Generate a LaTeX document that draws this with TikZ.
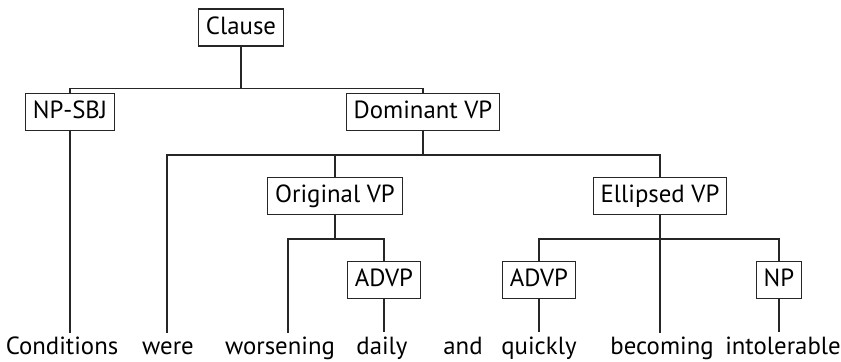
\documentclass[tikz,border=0pt]{standalone}
\usepackage{fontspec}
\setmainfont{PT Sans}
\usepackage{tikz}
\usetikzlibrary{positioning, calc}

\begin{document}
\begin{tikzpicture}[
        x=0.5pt, y=-0.5pt,
        font=\fontsize{12.4}{14}\selectfont,
        cat/.style={rectangle, draw=black!85, line width=0.6pt,
                    inner xsep=3.7pt, inner ysep=0pt, minimum height=18.5pt,
                    text height=9.2pt, text depth=2.6pt},
        word/.style={anchor=base, inner xsep=0pt, inner ysep=2pt,
                    text height=9.2pt, text depth=2.6pt},
        branch/.style={draw=black!85, line width=0.6pt}
    ]
        \useasboundingbox (0,0) rectangle (841,362);

        % Category boxes
        \node[cat] (clause) at (241,27.5) {Clause};
        \node[cat] (npsbj) at (70,112) {NP-SBJ};
        \node[cat] (dvp) at (423,112) {Dominant VP};
        \node[cat] (ovp) at (335,196) {Original VP};
        \node[cat] (evp) at (660,196) {Ellipsed VP};
        \node[cat] (advpa) at (384,280) {ADVP};
        \node[cat] (advpb) at (539,280) {ADVP};
        \node[cat] (np) at (779,280) {NP};

        % Words
        \node[word] (w1) at (62,355) {Conditions};
        \node[word] (w2) at (168,355) {were};
        \node[word] (w3) at (280,355) {worsening};
        \node[word] (w4) at (382,355) {daily};
        \node[word] (w5) at (463,355) {and};
        \node[word] (w6) at (539,355) {quickly};
        \node[word] (w7) at (662,355) {becoming};
        \node[word] (w8) at (783,355) {intolerable};

        % Leaf tops
        \coordinate (t1) at (70,333);
        \coordinate (t2) at (167,333);
        \coordinate (t3) at (288,333);
        \coordinate (t7) at (660,333);

        % Bars
        \path (clause.south) ++(0,42) coordinate (b1);
        \path (dvp.south) ++(0,24) coordinate (b2);
        \path (ovp.south) ++(0,24) coordinate (b3);
        \path (evp.south) ++(0,24) coordinate (b4);

        % Branches
        \draw[branch] (clause.south) -- (b1) -| (npsbj.north);
        \draw[branch] (b1) -| (dvp.north);
        \draw[branch] (npsbj.south) -- (t1);
        \draw[branch] (dvp.south) -- (b2) -| (t2);
        \draw[branch] (b2) -| (ovp.north);
        \draw[branch] (b2) -| (evp.north);
        \draw[branch] (ovp.south) -- (b3) -| (t3);
        \draw[branch] (b3) -| (advpa.north);
        \draw[branch] (advpa.south) -- (advpa.south |- w4.north);
        \draw[branch] (evp.south) -- (b4) -| (advpb.north);
        \draw[branch] (b4) -| (np.north);
        \draw[branch] (b4) -- (t7);
        \draw[branch] (advpb.south) -- (advpb.south |- w6.north);
        \draw[branch] (np.south) -- (np.south |- w8.north);
    \end{tikzpicture}
\end{document}
